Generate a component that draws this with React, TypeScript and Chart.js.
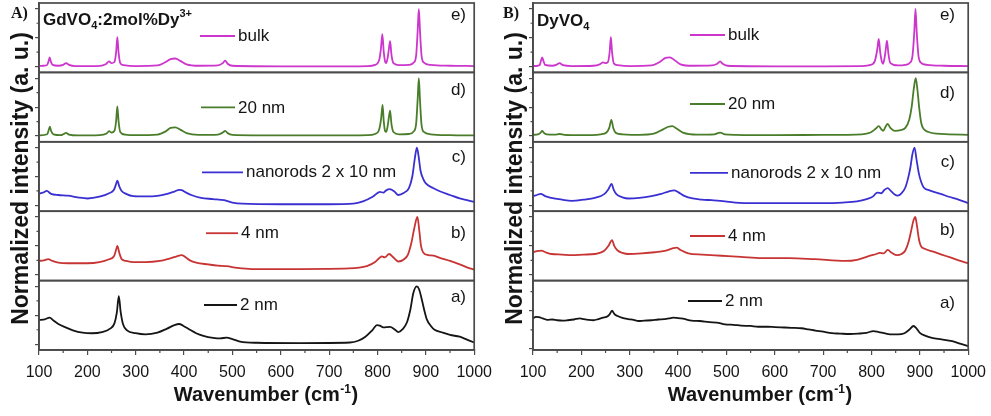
import React, { useEffect, useRef } from 'react';
import { Chart, registerables } from 'chart.js';

Chart.register(...registerables);

// ---------------- data ----------------
const xTickValues = [100, 200, 300, 400, 500, 600, 700, 800, 900, 1000];
const xTickLabels = ['100', '200', '300', '400', '500', '600', '700', '800', '900', '1000'];
const xMinorTicks = [150, 250, 350, 450, 550, 650, 750, 850, 950];
const yMajorTicks = [0, 0.5, 1];
const yMinorTicks = [0.25, 0.75];
const sampleLabels = ['2 nm', '4 nm', 'nanorods 2 x 10 nm', '20 nm', 'bulk'];
const panelTags = ['a)', 'b)', 'c)', 'd)', 'e)'];
const xTitle = ['Wavenumber (cm', '-1', ')'];
const yTitle = 'Normalized intensity (a. u.)';

// GdVO4:2mol%Dy3+
const gdBulkW = [100, 110, 117, 120, 122, 124, 128, 140, 150, 156, 162, 175, 220, 238, 245, 250, 256, 259.5, 262, 264.5, 268, 275, 300, 345, 360, 372, 382, 392, 405, 430, 470, 480, 485, 490, 500, 600, 700, 780, 795, 803, 807, 810, 813, 816, 818, 821, 823.5, 826, 829, 833, 845, 865, 875, 880, 883, 885.5, 888, 891, 896, 910, 950, 1000];
const gdBulkI = [0.01, 0.015, 0.03, 0.1, 0.16, 0.1, 0.03, 0.015, 0.03, 0.06, 0.03, 0.01, 0.01, 0.04, 0.09, 0.06, 0.08, 0.25, 0.51, 0.25, 0.06, 0.025, 0.01, 0.02, 0.07, 0.13, 0.14, 0.1, 0.04, 0.015, 0.02, 0.06, 0.105, 0.05, 0.015, 0.005, 0.005, 0.01, 0.03, 0.1, 0.3, 0.56, 0.25, 0.08, 0.06, 0.15, 0.3, 0.44, 0.2, 0.06, 0.025, 0.03, 0.07, 0.2, 0.6, 1.0, 0.6, 0.2, 0.07, 0.03, 0.015, 0.01];

const gd20W = [100, 117, 120, 122.5, 125, 130, 145, 150, 156, 162, 180, 225, 240, 245, 250, 256, 259.5, 262, 264.5, 268, 278, 300, 345, 362, 372, 382, 392, 405, 430, 470, 480, 485, 490, 500, 600, 700, 780, 795, 803, 807.5, 810.5, 813, 816, 818, 821, 823.5, 826, 829, 833, 845, 865, 875, 880, 883, 885.5, 888, 891, 896, 910, 950, 1000];
const gd20I = [0.01, 0.03, 0.1, 0.16, 0.09, 0.03, 0.015, 0.03, 0.055, 0.025, 0.01, 0.015, 0.045, 0.085, 0.06, 0.09, 0.26, 0.51, 0.26, 0.07, 0.025, 0.015, 0.025, 0.08, 0.14, 0.15, 0.11, 0.05, 0.02, 0.025, 0.06, 0.09, 0.05, 0.02, 0.01, 0.01, 0.015, 0.035, 0.1, 0.3, 0.54, 0.25, 0.08, 0.07, 0.17, 0.32, 0.44, 0.2, 0.07, 0.03, 0.035, 0.08, 0.22, 0.62, 1.0, 0.6, 0.2, 0.07, 0.03, 0.015, 0.01];

const gdRodW = [100, 108, 116, 125, 140, 160, 180, 200, 225, 245, 255, 259, 262, 266, 271, 280, 295, 320, 345, 365, 380, 390, 395, 405, 415, 435, 460, 483, 500, 520, 600, 700, 750, 770, 790, 805, 812, 818, 825, 835, 843, 855, 865, 872, 877, 881.5, 885, 889, 895, 900, 915, 930, 950, 970, 985, 1000];
const gdRodI = [0.2, 0.22, 0.25, 0.2, 0.18, 0.17, 0.14, 0.12, 0.15, 0.21, 0.27, 0.36, 0.43, 0.33, 0.25, 0.2, 0.16, 0.155, 0.165, 0.2, 0.24, 0.27, 0.265, 0.22, 0.18, 0.13, 0.11, 0.09, 0.05, 0.03, 0.02, 0.02, 0.03, 0.07, 0.15, 0.235, 0.22, 0.26, 0.28, 0.24, 0.18, 0.22, 0.3, 0.5, 0.8, 1.0, 0.85, 0.6, 0.45, 0.38, 0.3, 0.24, 0.18, 0.12, 0.09, 0.06];

const gd4W = [100, 110, 119, 128, 140, 160, 180, 200, 225, 245, 255, 259, 262, 266, 271, 280, 295, 320, 350, 370, 385, 395, 402, 412, 425, 450, 470, 488, 510, 540, 640, 740, 778, 795, 805, 809, 815, 824, 833, 843, 855, 863, 870, 876, 882.5, 886, 890, 895, 905, 916, 930, 950, 970, 985, 1000];
const gd4I = [0.24, 0.25, 0.27, 0.24, 0.21, 0.2, 0.2, 0.2, 0.22, 0.27, 0.32, 0.42, 0.5, 0.38, 0.27, 0.24, 0.22, 0.22, 0.24, 0.28, 0.32, 0.34, 0.31, 0.25, 0.21, 0.18, 0.16, 0.15, 0.12, 0.1, 0.1, 0.11, 0.15, 0.22, 0.3, 0.32, 0.3, 0.36, 0.3, 0.23, 0.27, 0.35, 0.55, 0.8, 1.0, 0.8, 0.5, 0.38, 0.34, 0.33, 0.29, 0.24, 0.18, 0.13, 0.09];

const gd2W = [100, 112, 122, 130, 140, 155, 170, 190, 210, 230, 247, 256, 261, 265, 269, 274, 282, 300, 320, 345, 365, 380, 390, 398, 412, 425, 440, 460, 475, 488, 500, 516, 550, 640, 743, 760, 775, 790, 799, 805, 812, 826, 835, 843, 852, 861, 868, 874, 881, 886, 892, 897, 902, 910, 918, 935, 950, 970, 985, 1000];
const gd2I = [0.42, 0.43, 0.46, 0.41, 0.35, 0.29, 0.24, 0.2, 0.19, 0.21, 0.27, 0.36, 0.55, 0.83, 0.55, 0.34, 0.24, 0.19, 0.17, 0.2, 0.27, 0.33, 0.35, 0.32, 0.25, 0.19, 0.145, 0.11, 0.1, 0.115, 0.09, 0.045, 0.025, 0.02, 0.03, 0.06, 0.13, 0.25, 0.33, 0.32, 0.29, 0.3, 0.26, 0.21, 0.26, 0.38, 0.6, 0.88, 1.0, 0.95, 0.76, 0.58, 0.43, 0.32, 0.25, 0.2, 0.16, 0.13, 0.08, 0.03];

// DyVO4
const dyBulkW = [100, 110, 114, 116.5, 119, 121.5, 125, 140, 148, 155, 162, 180, 225, 238, 245, 250, 255, 258.5, 261, 263.5, 267, 275, 300, 345, 362, 374, 383, 393, 405, 430, 470, 481, 487, 492, 502, 600, 700, 780, 798, 807, 812, 815, 818, 822, 824, 827, 829.5, 832, 835, 839, 855, 870, 880, 885, 888.5, 891, 893.5, 897, 902, 915, 950, 1000];
const dyBulkI = [0.01, 0.015, 0.03, 0.1, 0.16, 0.1, 0.03, 0.015, 0.03, 0.06, 0.025, 0.01, 0.015, 0.04, 0.075, 0.06, 0.08, 0.25, 0.51, 0.25, 0.06, 0.025, 0.01, 0.02, 0.08, 0.15, 0.16, 0.11, 0.04, 0.015, 0.02, 0.05, 0.09, 0.05, 0.015, 0.005, 0.005, 0.01, 0.03, 0.1, 0.3, 0.48, 0.25, 0.07, 0.05, 0.15, 0.3, 0.45, 0.22, 0.06, 0.02, 0.03, 0.07, 0.2, 0.6, 1.0, 0.6, 0.2, 0.07, 0.03, 0.015, 0.01];

const dy20W = [100, 110, 116, 119, 122, 128, 145, 155, 165, 200, 240, 252, 258, 262, 266, 272, 285, 320, 350, 370, 380, 388, 397, 410, 440, 475, 487, 497, 520, 600, 700, 780, 798, 808, 815, 820, 824, 829, 833.5, 839, 848, 860, 870, 878, 883, 887.5, 891.5, 895, 898.5, 903, 908, 918, 935, 960, 1000];
const dy20I = [0.02, 0.03, 0.06, 0.09, 0.06, 0.03, 0.025, 0.035, 0.02, 0.015, 0.03, 0.06, 0.15, 0.28, 0.14, 0.05, 0.03, 0.02, 0.04, 0.12, 0.16, 0.17, 0.13, 0.06, 0.025, 0.03, 0.06, 0.03, 0.02, 0.015, 0.02, 0.03, 0.06, 0.12, 0.17, 0.12, 0.09, 0.16, 0.21, 0.14, 0.09, 0.1, 0.14, 0.28, 0.5, 0.82, 1.0, 0.8, 0.5, 0.22, 0.12, 0.07, 0.04, 0.03, 0.02];

const dyRodW = [100, 108, 116, 125, 138, 160, 180, 205, 228, 248, 256, 262.5, 267, 273, 285, 297, 320, 345, 365, 380, 392, 400, 414, 430, 449, 470, 487, 518, 560, 632, 700, 740, 770, 790, 804, 808, 813, 820, 827, 833.5, 840, 848, 854, 862, 870, 876, 880.5, 884.5, 889, 893, 898, 903, 908, 920, 943, 960, 980, 1000];
const dyRodI = [0.16, 0.18, 0.2, 0.16, 0.13, 0.1, 0.08, 0.1, 0.13, 0.2, 0.28, 0.37, 0.27, 0.19, 0.14, 0.12, 0.13, 0.16, 0.2, 0.24, 0.26, 0.23, 0.16, 0.12, 0.1, 0.09, 0.08, 0.05, 0.04, 0.04, 0.04, 0.05, 0.07, 0.11, 0.16, 0.2, 0.22, 0.21, 0.27, 0.3, 0.25, 0.19, 0.17, 0.21, 0.31, 0.48, 0.66, 0.88, 1.0, 0.8, 0.55, 0.4, 0.31, 0.26, 0.2, 0.15, 0.1, 0.04];

const dy4W = [100, 108, 117, 126, 138, 160, 180, 205, 228, 248, 256, 263.5, 268, 275, 285, 297, 325, 352, 375, 390, 397, 405, 421, 450, 490, 530, 573, 630, 683, 746, 770, 797, 810, 817, 825, 833.5, 842, 853, 862, 870, 877, 882, 886.5, 890.5, 894, 898, 902, 910, 928, 945, 963, 980, 1000];
const dy4I = [0.39, 0.41, 0.42, 0.39, 0.36, 0.35, 0.34, 0.35, 0.36, 0.42, 0.5, 0.6, 0.5, 0.42, 0.38, 0.36, 0.37, 0.39, 0.42, 0.46, 0.47, 0.43, 0.37, 0.35, 0.33, 0.31, 0.29, 0.29, 0.27, 0.24, 0.26, 0.33, 0.36, 0.38, 0.37, 0.43, 0.38, 0.34, 0.36, 0.42, 0.58, 0.76, 0.93, 1.0, 0.85, 0.62, 0.5, 0.45, 0.4, 0.35, 0.3, 0.25, 0.2];

const dy2W = [100, 106, 112, 120, 130, 140, 150, 162, 172, 185, 197, 205, 215, 225, 235, 245, 252, 258, 263.5, 268, 275, 285, 297, 308, 318, 330, 345, 359, 372, 382, 390, 398, 410, 428, 445, 465, 480, 497, 515, 530, 550, 566, 585, 600, 620, 635, 655, 670, 684, 700, 718, 735, 755, 773, 790, 804, 815, 830, 842, 855, 868, 878, 887, 893, 900, 912, 925, 945, 967, 985, 1000];
const dy2I = [0.40, 0.42, 0.415, 0.40, 0.38, 0.385, 0.375, 0.37, 0.375, 0.385, 0.40, 0.39, 0.38, 0.375, 0.39, 0.41, 0.42, 0.45, 0.50, 0.46, 0.43, 0.405, 0.39, 0.38, 0.365, 0.37, 0.375, 0.385, 0.39, 0.40, 0.41, 0.405, 0.395, 0.37, 0.365, 0.35, 0.345, 0.32, 0.315, 0.305, 0.30, 0.29, 0.29, 0.285, 0.28, 0.276, 0.27, 0.255, 0.24, 0.225, 0.205, 0.2, 0.195, 0.2, 0.21, 0.233, 0.22, 0.2, 0.19, 0.19, 0.205, 0.25, 0.30, 0.27, 0.21, 0.17, 0.145, 0.125, 0.1, 0.065, 0.035];

// ---------------- styles / layout ----------------
const FONT = '"Liberation Sans", Arial, Helvetica, sans-serif';
const SERIF = '"Liberation Serif", "Times New Roman", serif';
const FRAME = '#4a4a4a';
const INK = '#151515';
const seriesColors = ['#151515', '#c83434', '#3a30d2', '#4a7d2a', '#cc36cc'];
const AXIS_IDS = ['ya', 'yb', 'yc', 'yd', 'ye'];

type Spec = {
  waves: number[][];
  ints: number[][];
  yMin: number[];
  yMax: number[];
  legend: number[][];
  legendDy: number[];
  tagX: number;
  tagDy: number[];
  compound: [string, number][];
  compoundX: number;
  compoundY: number;
  letter: string;
  letterX: number;
};

const leftSpec: Spec = {
  waves: [gd2W, gd4W, gdRodW, gd20W, gdBulkW],
  ints: [gd2I, gd4I, gdRodI, gd20I, gdBulkI],
  yMin: [-0.1, -0.1, -0.1, -0.1, -0.1],
  yMax: [1.1, 1.1, 1.1, 1.1, 1.1],
  legend: [[204, 237], [206, 238], [202, 243], [201, 235], [200, 235]],
  legendDy: [24.4, 22, 30.5, 35, 33],
  tagX: 466,
  tagDy: [16.4, 22, 15.5, 17.6, 12],
  compound: [['GdVO', 0], ['4', 1], [':2mol%Dy', 0], ['3+', -1]],
  compoundX: 43,
  compoundY: 25,
  letter: 'A)',
  letterX: 11,
};

const rightSpec: Spec = {
  waves: [dy2W, dy4W, dyRodW, dy20W, dyBulkW],
  ints: [dy2I, dy4I, dyRodI, dy20I, dyBulkI],
  yMin: [-0.015, -0.1, -0.1, -0.1, -0.1],
  yMax: [0.895, 1.1, 1.1, 1.1, 1.1],
  legend: [[194, 228], [196, 231], [196, 234], [196, 231], [196, 231]],
  legendDy: [20.4, 24.8, 31, 31.6, 32],
  tagX: 461,
  tagDy: [22.4, 19, 21, 20.6, 12],
  compound: [['DyVO', 0], ['4', 1]],
  compoundX: 43,
  compoundY: 26,
  letter: 'B)',
  letterX: 9,
};

function makeDecor(spec: Spec) {
  return {
    id: 'panelDecor',
    afterDraw(chart: any) {
      const ctx: CanvasRenderingContext2D = chart.ctx;
      const area = chart.chartArea;
      const xs = chart.scales.x;
      ctx.save();
      // sub-panel frames
      ctx.strokeStyle = FRAME;
      ctx.lineWidth = 1.7;
      AXIS_IDS.forEach((id) => {
        const s = chart.scales[id];
        ctx.strokeRect(area.left, s.top, area.right - area.left, s.bottom - s.top);
      });
      // minor ticks
      ctx.lineWidth = 1.2;
      ctx.beginPath();
      AXIS_IDS.forEach((id) => {
        const s = chart.scales[id];
        yMinorTicks.forEach((v) => {
          if (v > s.min && v < s.max) {
            const p = s.getPixelForValue(v);
            ctx.moveTo(area.left - 2.5, p);
            ctx.lineTo(area.left, p);
          }
        });
      });
      xMinorTicks.forEach((v) => {
        const p = xs.getPixelForValue(v);
        ctx.moveTo(p, xs.top);
        ctx.lineTo(p, xs.top + 3);
      });
      ctx.stroke();
      // legends and tags
      chart.data.datasets.forEach((ds: any, i: number) => {
        const s = chart.scales[ds.yAxisID];
        const y = s.top + spec.legendDy[i];
        const [x0, x1] = spec.legend[i];
        ctx.strokeStyle = ds.borderColor;
        ctx.lineWidth = 1.8;
        ctx.beginPath();
        ctx.moveTo(x0, y);
        ctx.lineTo(x1, y);
        ctx.stroke();
        ctx.fillStyle = INK;
        ctx.font = `17px ${FONT}`;
        ctx.textAlign = 'left';
        ctx.textBaseline = 'middle';
        ctx.fillText(ds.label, x1 + 3, y + 0.5);
        ctx.textAlign = 'right';
        ctx.fillText(panelTags[i], spec.tagX, s.top + spec.tagDy[i]);
      });
      // compound name
      ctx.textAlign = 'left';
      ctx.textBaseline = 'alphabetic';
      let cx = spec.compoundX;
      spec.compound.forEach(([t, k]) => {
        ctx.font = k === 0 ? `bold 17px ${FONT}` : `bold 11px ${FONT}`;
        const dy = k === 0 ? 0 : k > 0 ? 4 : -8;
        ctx.fillText(t, cx, spec.compoundY + dy);
        cx += ctx.measureText(t).width;
      });
      // panel letter
      ctx.font = `bold 16px ${SERIF}`;
      ctx.fillText(spec.letter, spec.letterX, 18.3);
      // x title with superscript
      const [t0, t1, t2] = xTitle;
      ctx.font = `bold 20px ${FONT}`;
      const w0 = ctx.measureText(t0).width;
      const w2 = ctx.measureText(t2).width;
      ctx.font = `bold 12px ${FONT}`;
      const w1 = ctx.measureText(t1).width;
      let tx = 266 - (w0 + w1 + w2 + 1) / 2;
      ctx.font = `bold 20px ${FONT}`;
      ctx.fillText(t0, tx, 401);
      tx += w0;
      ctx.font = `bold 12px ${FONT}`;
      ctx.fillText(t1, tx + 0.5, 393);
      tx += w1 + 1;
      ctx.font = `bold 20px ${FONT}`;
      ctx.fillText(t2, tx, 401);
      // y title
      ctx.save();
      ctx.translate(27.5, 178.5);
      ctx.rotate(-Math.PI / 2);
      ctx.textAlign = 'center';
      ctx.font = `bold 23px ${FONT}`;
      ctx.fillText(yTitle, 0, 0);
      ctx.restore();
      ctx.restore();
    },
  };
}

function buildChart(canvas: HTMLCanvasElement, spec: Spec) {
  const datasets = spec.waves.map((w, i) => ({
    label: sampleLabels[i],
    data: w.map((x, j) => ({ x, y: spec.ints[i][j] })),
    yAxisID: AXIS_IDS[i],
    borderColor: seriesColors[i],
    borderWidth: 1.8,
    pointRadius: 0,
    cubicInterpolationMode: 'monotone' as const,
    fill: false,
  }));
  const scales: any = {
    x: {
      type: 'linear',
      position: 'bottom',
      min: 100,
      max: 1000,
      afterBuildTicks: (s: any) => {
        s.ticks = xTickValues.map((v) => ({ value: v }));
      },
      ticks: {
        autoSkip: false,
        maxRotation: 0,
        padding: 8,
        color: INK,
        font: { family: FONT, size: 16 },
        callback: (_v: any, idx: number) => xTickLabels[idx],
      },
      grid: { drawOnChartArea: false, drawTicks: true, tickLength: 5, color: FRAME, lineWidth: 1.2 },
      border: { color: FRAME, width: 1.7 },
    },
  };
  AXIS_IDS.forEach((id, i) => {
    scales[id] = {
      type: 'linear',
      position: 'left',
      stack: 'spectra',
      stackWeight: 1,
      weight: i + 1,
      min: spec.yMin[i],
      max: spec.yMax[i],
      afterBuildTicks: (s: any) => {
        s.ticks = yMajorTicks.filter((v) => v <= spec.yMax[i]).map((v) => ({ value: v }));
      },
      ticks: { display: false },
      grid: { drawOnChartArea: false, drawTicks: true, tickLength: 4, color: FRAME, lineWidth: 1.2 },
      border: { color: FRAME, width: 1.7 },
    };
  });
  return new Chart(canvas, {
    type: 'line',
    data: { datasets },
    options: {
      animation: false,
      responsive: false,
      devicePixelRatio: 1,
      events: [],
      layout: { padding: { left: 35, right: 21, top: 3, bottom: 25.8 } },
      plugins: { legend: { display: false }, tooltip: { enabled: false } },
      scales,
    },
    plugins: [makeDecor(spec)],
  } as any);
}

export default function App() {
  const leftRef = useRef<HTMLCanvasElement>(null);
  const rightRef = useRef<HTMLCanvasElement>(null);
  useEffect(() => {
    const charts = [buildChart(leftRef.current!, leftSpec), buildChart(rightRef.current!, rightSpec)];
    return () => charts.forEach((c) => c.destroy());
  }, []);
  return (
    <div style={{ position: 'absolute', left: 0, top: 0, width: 991, height: 416, background: '#fff', overflow: 'hidden' }}>
      <canvas ref={leftRef} width={500} height={416} style={{ position: 'absolute', left: 0, top: 0, width: 500, height: 416 }} />
      <canvas ref={rightRef} width={500} height={416} style={{ position: 'absolute', left: 494, top: 0, width: 500, height: 416 }} />
    </div>
  );
}
